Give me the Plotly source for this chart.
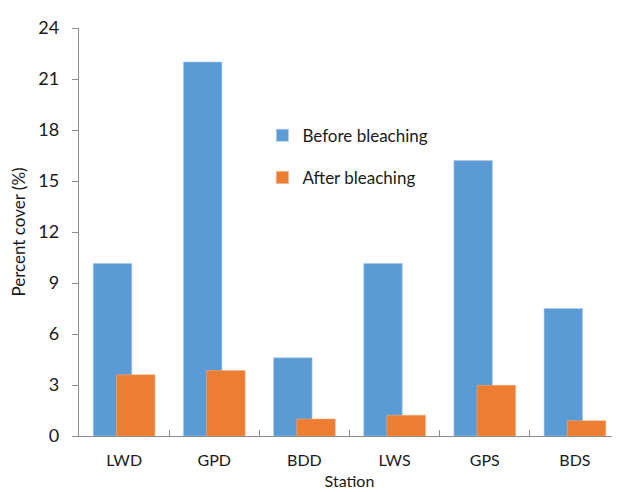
import plotly.graph_objects as go

stations = ["LWD", "GPD", "BDD", "LWS", "GPS", "BDS"]
before = [10.15, 22.0, 4.6, 10.15, 16.2, 7.5]
after = [3.6, 3.85, 1.0, 1.22, 2.98, 0.9]
y_ticks = [0, 3, 6, 9, 12, 15, 18, 21, 24]

FONT = "Lato"
fig = go.Figure()
fig.add_trace(go.Bar(
    x=stations, y=before, name="Before bleaching",
    marker=dict(color="#5B9BD5", line=dict(color="#A9C9EA", width=0.6)),
    width=0.427, offset=-0.342, legendgroup="a",
))
fig.add_trace(go.Bar(
    x=stations, y=after, name="After bleaching",
    marker=dict(color="#ED7D31", line=dict(color="#F3A877", width=0.6)),
    width=0.427, offset=-0.085, legendgroup="b",
))

fig.update_layout(
    width=620, height=492,
    margin=dict(l=69, r=8, t=12, b=64),
    paper_bgcolor="white", plot_bgcolor="white",
    barmode="overlay",
    font=dict(family=FONT, size=17, color="#1a1a1a"),
    showlegend=True,
    legend=dict(x=0.339, y=0.78, xanchor="left", yanchor="top",
                bgcolor="rgba(0,0,0,0)", traceorder="grouped",
                tracegroupgap=17, font=dict(size=17, family=FONT)),
    xaxis=dict(
        type="category", showline=True, linecolor="#8c8c8c", linewidth=1.3,
        ticks="inside", tickson="boundaries", ticklen=6, tickcolor="#8c8c8c",
        showgrid=False, tickfont=dict(size=16), ticklabelstandoff=10,
        title=dict(text="Station", font=dict(size=16), standoff=7),
        range=[-0.5, 5.5],
    ),
    yaxis=dict(
        range=[0, 24], tickvals=y_ticks, showline=True, linecolor="#8c8c8c",
        linewidth=1.3, ticks="outside", ticklen=6, tickcolor="#8c8c8c",
        showgrid=False, zeroline=False, tickfont=dict(size=18),
        ticklabelstandoff=9,
        title=dict(text="Percent cover (%)", font=dict(size=17), standoff=10),
    ),
)

fig.write_html("out.html")
